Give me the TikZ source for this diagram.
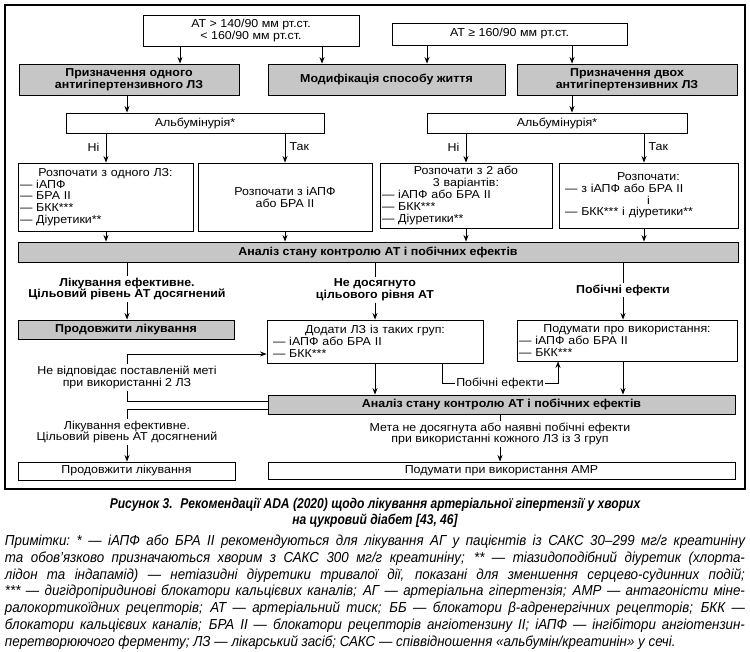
\documentclass[tikz,border=0pt]{standalone}
\usepackage{fontspec}
\usetikzlibrary{arrows.meta,calc}
\newfontfamily\dfont[FakeStretch=1.08]{Liberation Sans}
\newfontfamily\nfont[FakeStretch=0.92]{Liberation Sans}
\newfontfamily\cfont[FakeStretch=0.85]{Liberation Sans}
\definecolor{boxgray}{RGB}{198,198,198}
\newcommand{\ctr}[1]{\mbox{}\hfill#1\hfill\mbox{}}
\newcommand{\dsz}{\fontsize{11.5}{11.8}\selectfont}
\newcommand{\jline}[1]{\makebox[740pt][s]{\spaceskip=0.26em plus 1em minus 0.05em\xspaceskip=\spaceskip #1}}
\begin{document}
\begin{tikzpicture}[x=1pt,y=-1pt,
  box/.style={draw, line width=0.9pt, inner sep=0pt, align=center, font=\dfont\dsz},
  gbox/.style={box, fill=boxgray, font=\dfont\dsz\bfseries},
  lbox/.style={box, align=left},
  lbl/.style={inner sep=1.5pt, align=center, font=\dfont\dsz},
  blbl/.style={lbl, font=\dfont\dsz\bfseries},
  con/.style={line width=0.9pt},
  arr/.style={con, -{Stealth[length=6.5pt,width=5pt]}}]
\useasboundingbox (0,0) rectangle (750,652);
\draw[line width=1.1pt] (5,5) rectangle (745,489);
% top row
\node[box, minimum width=216pt, minimum height=31pt] (top1) at (251,30.5) {АТ > 140/90 мм рт.ст.\\< 160/90 мм рт.ст.};
\node[box, minimum width=235pt, minimum height=22pt] (top2) at (509.5,34) {АТ ≥ 160/90 мм рт.ст.};
\node[gbox, minimum width=220pt, minimum height=31pt] (g1) at (129,79.5) {Призначення одного\\антигіпертензивного ЛЗ};
\node[gbox, minimum width=237pt, minimum height=31pt] (g2) at (386.5,79.5) {Модифікація способу життя};
\node[gbox, minimum width=220pt, minimum height=31pt] (g3) at (627,79.5) {Призначення двох\\антигіпертензивних ЛЗ};
\node[box, minimum width=258pt, minimum height=20pt] (alb1) at (195,123) {Альбумінурія*};
\node[box, minimum width=260pt, minimum height=20pt] (alb2) at (557,123) {Альбумінурія*};
% start boxes
\node[lbox, minimum width=175pt, minimum height=68pt, text width=171pt] (bA) at (105.5,197) {\ctr{Розпочати з одного ЛЗ:}\\— іАПФ\\— БРА II\\— БКК***\\— Діуретики**};
\node[box, minimum width=174pt, minimum height=68pt] (bB) at (285,197) {Розпочати з іАПФ\\або БРА II};
\node[lbox, minimum width=172pt, minimum height=65pt, text width=168pt] (bC) at (466,195.5) {\ctr{Розпочати з 2 або}\\\ctr{3 варіантів:}\\— іАПФ або БРА II\\— БКК***\\— Діуретики**\par\vskip8pt};
\node[lbox, minimum width=179pt, minimum height=65pt, text width=167pt] (bD) at (648.5,195.5) {\ctr{Розпочати:}\\— з іАПФ або БРА II\\\ctr{і}\\— БКК*** і діуретики**\par\vskip9pt};
\node[gbox, minimum width=720pt, minimum height=20pt] (bar1) at (378,252) {Аналіз стану контролю АТ і побічних ефектів};
% labels under bar 1
\node[blbl] (l1) at (127,289) {Лікування ефективне.\\Цільовий рівень АТ досягнений};
\node[blbl] (m1) at (375,290) {Не досягнуто\\цільового рівня АТ};
\node[blbl] (r1) at (623,290) {Побічні ефекти};
\node[gbox, minimum width=216pt, minimum height=19pt] (gP) at (126,329.5) {Продовжити лікування};
\node[lbox, minimum width=216pt, minimum height=43pt, text width=204pt] (bE) at (375,341.5) {\ctr{Додати ЛЗ із таких груп:}\\— іАПФ або БРА II\\— БКК***};
\node[lbox, minimum width=220pt, minimum height=41pt, text width=216pt] (bF) at (627,340.5) {\ctr{Подумати про використання:}\\— іАПФ або БРА II\\— БКК***};
\node[lbl] (l2) at (127,377.5) {Не відповідає поставленій меті\\при використанні 2 ЛЗ};
\node[lbl] (se) at (500,383) {Побічні ефекти};
\node[gbox, minimum width=467pt, minimum height=19pt] (bar2) at (501.5,404.5) {Аналіз стану контролю АТ і побічних ефектів};
\node[lbl] (l3) at (127,432) {Лікування ефективне.\\Цільовий рівень АТ досягнений};
\node[lbl] (r3) at (500,434) {Мета не досягнута або наявні побічні ефекти\\при використанні кожного ЛЗ із 3 груп};
\node[box, minimum width=217pt, minimum height=18pt] (bL) at (126.5,471) {Продовжити лікування};
\node[box, minimum width=467pt, minimum height=17pt] (bR) at (501.5,470.5) {Подумати при використання АМР};
% Yes / No labels
\node[lbl, anchor=east] (n1) at (101,147) {Ні};
\node[lbl, anchor=west] (y1) at (288,147) {Так};
\node[lbl, anchor=east] (n2) at (461,147) {Ні};
\node[lbl, anchor=west] (y2) at (647,147) {Так};
% connectors
\draw[arr] (180,0 |- top1.south) -- (180,0 |- g1.north);
\draw[arr] (322,0 |- top1.south) -- (322,0 |- g2.north);
\draw[arr] (427,0 |- top2.south) -- (427,0 |- g2.north);
\draw[arr] (572,0 |- top2.south) -- (572,0 |- g3.north);
\draw[arr] (127,0 |- g1.south) -- (127,0 |- alb1.north);
\draw[arr] (572,0 |- g3.south) -- (572,0 |- alb2.north);
\draw[arr] (106,0 |- alb1.south) -- (106,0 |- bA.north);
\draw[arr] (285,0 |- alb1.south) -- (285,0 |- bB.north);
\draw[arr] (466,0 |- alb2.south) -- (466,0 |- bC.north);
\draw[arr] (644,0 |- alb2.south) -- (644,0 |- bD.north);
\draw[arr] (106,0 |- bA.south) -- (106,0 |- bar1.north);
\draw[arr] (285,0 |- bB.south) -- (285,0 |- bar1.north);
\draw[arr] (466,0 |- bC.south) -- (466,0 |- bar1.north);
\draw[arr] (644,0 |- bD.south) -- (644,0 |- bar1.north);
\draw[con] (127,0 |- bar1.south) -- (l1.north);
\draw[arr] (l1.south) -- (127,0 |- gP.north);
\draw[con] (375,0 |- bar1.south) -- (m1.north);
\draw[arr] (m1.south) -- (bE.north);
\draw[con] (623,0 |- bar1.south) -- (r1.north);
\draw[arr] (r1.south) -- (623,0 |- bF.north);
\draw[arr] (bE.south) -- (375,0 |- bar2.north);
\draw[arr] (623,0 |- bF.south) -- (623,0 |- bar2.north);
\draw[con] (442,0 |- bE.south) |- (se.west);
\draw[arr] (se.east) -| (558,0 |- bF.south);
\draw[con] (bar2.west |- 0,401) -- (127,401) -- (l2.south);
\draw[arr] (l2.north) |- (bE.west |- 0,354);
\draw[con] (bar2.west |- 0,409) -- (127,409) -- (l3.north);
\draw[arr] (l3.south) -- (127,0 |- bL.north);
\draw[con] (500,0 |- bar2.south) -- (r3.north);
\draw[arr] (r3.south) -- (500,0 |- bR.north);
% caption and notes
\node[align=center, inner sep=0pt, font=\cfont\fontsize{14.2}{16}\selectfont\bfseries\itshape] (cap) at (375,513) {Рисунок 3.~ Рекомендації ADA (2020) щодо лікування артеріальної гіпертензії у хворих\\на цукровий діабет [43, 46]};
\node[align=left, inner sep=0pt, text width=740pt, font=\nfont\fontsize{14.5}{16.8}\selectfont\itshape] (notes) at (375,592) {%
\jline{Примітки: * — іАПФ або БРА II рекомендуються для лікування АГ у пацієнтів із САКС 30–299 мг/г креатиніну}\\
\jline{та обов’язково призначаються хворим з САКС 300 мг/г креатиніну; ** — тіазидоподібний діуретик (хлорта-}\\
\jline{лідон та індапамід) — нетіазидні діуретики тривалої дії, показані для зменшення серцево-судинних подій;}\\
\jline{*** — дигідропіридинові блокатори кальцієвих каналів; АГ — артеріальна гіпертензія; АМР — антагоністи міне-}\\
\jline{ралокортикоїдних рецепторів; АТ — артеріальний тиск; ББ — блокатори β-адренергічних рецепторів; БКК —}\\
\jline{блокатори кальцієвих каналів; БРА II — блокатори рецепторів ангіотензину II; іАПФ — інгібітори ангіотензин-}\\
{\spaceskip=0.26em\xspaceskip=\spaceskip перетворюючого ферменту; ЛЗ — лікарський засіб; САКС — співвідношення «альбумін/креатинін» у сечі.}};
\end{tikzpicture}
\end{document}
